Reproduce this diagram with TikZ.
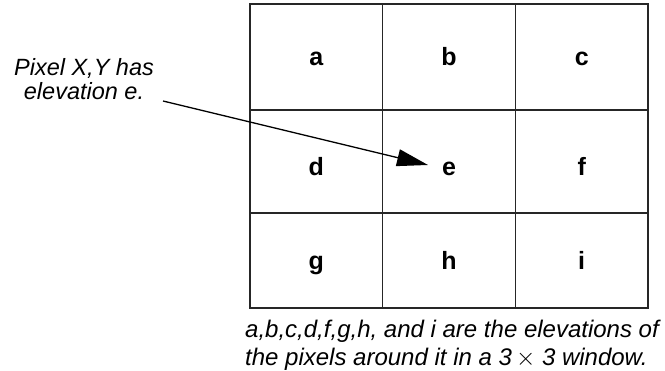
\documentclass[tikz,border=0pt]{standalone}
\usepackage{fontspec}
\setmainfont{Liberation Sans}
\usetikzlibrary{arrows.meta,positioning}
\tikzset{
      cellbox/.style={
        draw=black!85,
        line width=1.6pt,
        minimum width=132.7pt,
        inner sep=0pt,
        text height=17pt,
        text depth=0pt,
        font=\fontsize{25}{29}\selectfont\bfseries
      },
      notetext/.style={
        inner sep=0pt,
        align=center,
        font=\fontsize{23.5}{24}\selectfont\itshape
      },
      captext/.style={
        inner sep=0pt,
        align=left,
        font=\fontsize{24}{28}\selectfont\itshape
      },
      pointer/.style={
        -{Triangle[length=31pt,width=17pt]},
        line width=1.3pt
      }
    }

\begin{document}
\begin{tikzpicture}[x=1pt,y=-1pt]
    \useasboundingbox (0,0) rectangle (665,371);
    % the 3 x 3 window
    \node[cellbox, minimum height=106pt] (a) at (316.3,57) {a};
    \node[cellbox, minimum height=106pt] (b) at (449,57) {b};
    \node[cellbox, minimum height=106pt] (c) at (581.7,57) {c};
    \node[cellbox, minimum height=103pt, text height=29pt] (d) at (316.3,161.5) {d};
    \node[cellbox, minimum height=103pt, text height=29pt] (e) at (449,161.5) {e};
    \node[cellbox, minimum height=103pt, text height=29pt] (f) at (581.7,161.5) {f};
    \node[cellbox, minimum height=95pt, text height=19pt] (g) at (316.3,260.5) {g};
    \node[cellbox, minimum height=95pt, text height=19pt] (h) at (449,260.5) {h};
    \node[cellbox, minimum height=95pt, text height=19pt] (i) at (581.7,260.5) {i};
    \node[notetext, anchor=north] (note) at (84,58) {Pixel X,Y has\\elevation e.};
    \node[captext, anchor=north west] (caption) at (245,319.5) {a,b,c,d,f,g,h, and i are the elevations of\\the pixels around it in a 3\,$\times$\ 3 window.};
    \coordinate (tail) at (163,101);
    \draw[pointer] (tail) -- ([xshift=-21pt,yshift=-3.5pt]e.center);
    \end{tikzpicture}
\end{document}
